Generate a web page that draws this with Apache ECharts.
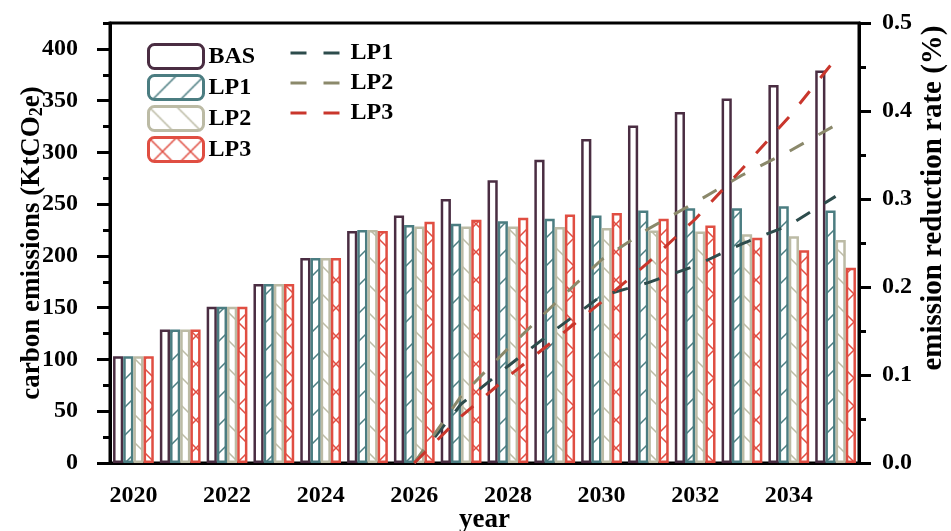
<!DOCTYPE html>
<html>
<head>
<meta charset="utf-8">
<script src="https://cdn.jsdelivr.net/npm/echarts@6/dist/echarts.min.js"></script>
<style>
  html, body { margin: 0; padding: 0; background: #fff; }
  #chart { width: 951px; height: 531px; }
</style>
</head>
<body>
<div id="chart"></div>
<script>
// Annual carbon emissions per scenario (KtCO2e) and reduction rate vs. baseline
const years = ['2020','2021','2022','2023','2024','2025','2026','2027','2028','2029','2030','2031','2032','2033','2034','2035'];

const emBAS = [103, 129, 151, 173, 198, 224, 239, 255, 273, 293, 313, 326, 339, 352, 365, 379];
const emLP1 = [103, 129, 151, 173, 198, 225, 230, 231, 233.5, 236, 239, 244, 246, 246, 248, 244];
const emLP2 = [103, 129, 151, 173, 198, 225, 228.5, 228.5, 228.5, 228, 227, 224.5, 223.5, 221, 219, 215.5];
const emLP3 = [103, 129, 151, 173, 198, 224, 233, 235, 237, 240, 241.5, 236, 229.5, 217.5, 205.5, 188.5];

const rateLP1 = ['-', '-', '-', '-', '-', '-', 0, 0.067, 0.110, 0.151, 0.190, 0.205, 0.224, 0.249, 0.270, 0.303];
const rateLP2 = ['-', '-', '-', '-', '-', '-', 0, 0.076, 0.130, 0.181, 0.231, 0.266, 0.296, 0.327, 0.354, 0.384];
const rateLP3 = ['-', '-', '-', '-', '-', '-', 0, 0.053, 0.098, 0.140, 0.183, 0.228, 0.277, 0.334, 0.393, 0.459];

const leftMajorTicks = [0, 50, 100, 150, 200, 250, 300, 350, 400];

const FONT = '"Liberation Serif", "Times New Roman", serif';

// Hatch fill for the bars: '/' , '\\' , 'x' or plain
function hatch(color, kind) {
  const s = 28;
  const c = document.createElement('canvas');
  c.width = s; c.height = s;
  const g = c.getContext('2d');
  g.fillStyle = '#fff';
  g.fillRect(0, 0, s, s);
  g.strokeStyle = color;
  g.lineWidth = 1.5;
  g.lineCap = 'square';
  const fwd = () => {
    g.beginPath();
    g.moveTo(-2, s + 2); g.lineTo(s + 2, -2);
    g.moveTo(-2, 2); g.lineTo(2, -2);
    g.moveTo(s - 2, s + 2); g.lineTo(s + 2, s - 2);
    g.stroke();
  };
  const back = () => {
    g.beginPath();
    g.moveTo(-2, -2); g.lineTo(s + 2, s + 2);
    g.moveTo(s - 2, -2); g.lineTo(s + 2, 2);
    g.moveTo(-2, s - 2); g.lineTo(2, s + 2);
    g.stroke();
  };
  if (kind === '/' || kind === 'x') fwd();
  if (kind === '\\' || kind === 'x') back();
  return { image: c, repeat: 'repeat' };
}

const colBAS = '#4a2d42';
const colLP1 = '#4b7d81';
const colLP2 = '#bcbba5';
const colLP3 = '#e04e42';
const lineLP1 = '#2d4c4c';
const lineLP2 = '#8b896b';
const lineLP3 = '#c9362c';

const labelStyle = { fontFamily: FONT, fontWeight: 'bold', fontSize: 24, color: '#000' };
const nameStyle = { fontFamily: FONT, fontWeight: 'bold', fontSize: 27, color: '#000' };
const DASH = [16, 17];

function barSeries(name, data, color, kind) {
  return {
    name: name,
    type: 'bar',
    data: data,
    yAxisIndex: 0,
    barGap: '0%',
    barCategoryGap: '13%',
    itemStyle: {
      color: kind ? hatch(color, kind) : '#fff',
      borderColor: color,
      borderWidth: 2.5
    },
    z: 2
  };
}

function lineSeries(name, data, color) {
  return {
    name: name,
    type: 'line',
    data: data,
    yAxisIndex: 1,
    symbol: 'none',
    lineStyle: { color: color, width: 3, type: DASH },
    itemStyle: { color: color },
    z: 5
  };
}

const chart = echarts.init(document.getElementById('chart'), null, { renderer: 'canvas' });

chart.setOption({
  animation: false,
  backgroundColor: '#fff',
  grid: {
    left: 110, right: 92, top: 23, bottom: 68,
    containLabel: false,
    outerBoundsMode: 'none',
    show: true, borderColor: '#000', borderWidth: 3, backgroundColor: 'transparent'
  },
  legend: [
    {
      data: ['BAS', 'LP1', 'LP2', 'LP3'],
      orient: 'vertical',
      left: 147, top: 43, padding: 0,
      itemWidth: 55, itemHeight: 24, itemGap: 4,
      textStyle: { fontFamily: FONT, fontWeight: 'bold', fontSize: 24, color: '#000' },
      itemStyle: { borderWidth: 3 }
    },
    {
      data: ['LP1 rate', 'LP2 rate', 'LP3 rate'],
      orient: 'vertical',
      left: 289, top: 41, padding: 0,
      itemWidth: 55, itemHeight: 24, itemGap: 6,
      formatter: (n) => n.replace(' rate', ''),
      textStyle: { fontFamily: FONT, fontWeight: 'bold', fontSize: 24, color: '#000' },
      itemStyle: { opacity: 0 },
      lineStyle: { width: 3, type: DASH }
    }
  ],
  xAxis: {
    type: 'category',
    data: years,
    boundaryGap: true,
    name: 'year',
    nameLocation: 'middle',
    nameGap: 44,
    nameMoveOverlap: false,
    nameTextStyle: nameStyle,
    axisLine: { lineStyle: { color: '#000', width: 3 } },
    axisTick: { show: false },
    axisLabel: Object.assign({ interval: 1, margin: 21 }, labelStyle),
    splitLine: { show: false }
  },
  yAxis: [
    {
      type: 'value',
      position: 'left',
      min: 0, max: 425, interval: 25,
      name: '{t|carbon emissions (KtCO}{s|2}{t|e)}',
      nameLocation: 'middle',
      nameRotate: 90,
      nameGap: 64,
      nameMoveOverlap: false,
      nameTextStyle: {
        rich: {
          t: Object.assign({ lineHeight: 30, verticalAlign: 'bottom' }, nameStyle),
          s: { fontFamily: FONT, fontWeight: 'bold', fontSize: 18, color: '#000', lineHeight: 14, verticalAlign: 'bottom' }
        }
      },
      axisLine: { show: true, lineStyle: { color: '#000', width: 3 } },
      axisTick: { show: true, length: 7, lineStyle: { color: '#000', width: 3 } },
      axisLabel: Object.assign({
        margin: 32,
        formatter: (v) => (v % 50 === 0 && v <= 400 ? String(v) : '')
      }, labelStyle),
      splitLine: { show: false }
    },
    {
      type: 'value',
      position: 'right',
      min: 0, max: 0.5, interval: 0.1,
      name: 'emission reduction rate (%)',
      nameLocation: 'middle',
      nameRotate: 90,
      nameGap: 60,
      nameMoveOverlap: false,
      nameTextStyle: Object.assign({ padding: [0, 0, 0, 90] }, nameStyle, { fontSize: 29 }),
      axisLine: { show: true, lineStyle: { color: '#000', width: 3 } },
      axisTick: { show: true, length: 12, lineStyle: { color: '#000', width: 3 } },
      minorTick: { show: true, splitNumber: 2, length: 7, lineStyle: { color: '#000', width: 3 } },
      axisLabel: Object.assign({ margin: 23, formatter: (v) => v.toFixed(1) }, labelStyle),
      splitLine: { show: false }
    },
    {
      // long ticks at every labelled value on the left
      type: 'value',
      position: 'left',
      min: 0, max: 425,
      axisLine: { show: false },
      axisTick: { show: true, length: 13, customValues: leftMajorTicks, lineStyle: { color: '#000', width: 3 } },
      axisLabel: { show: false },
      splitLine: { show: false }
    }
  ],
  series: [
    barSeries('BAS', emBAS, colBAS, null),
    barSeries('LP1', emLP1, colLP1, '/'),
    barSeries('LP2', emLP2, colLP2, '\\'),
    barSeries('LP3', emLP3, colLP3, 'x'),
    lineSeries('LP1 rate', rateLP1, lineLP1),
    lineSeries('LP2 rate', rateLP2, lineLP2),
    lineSeries('LP3 rate', rateLP3, lineLP3)
  ]
});
</script>
</body>
</html>
